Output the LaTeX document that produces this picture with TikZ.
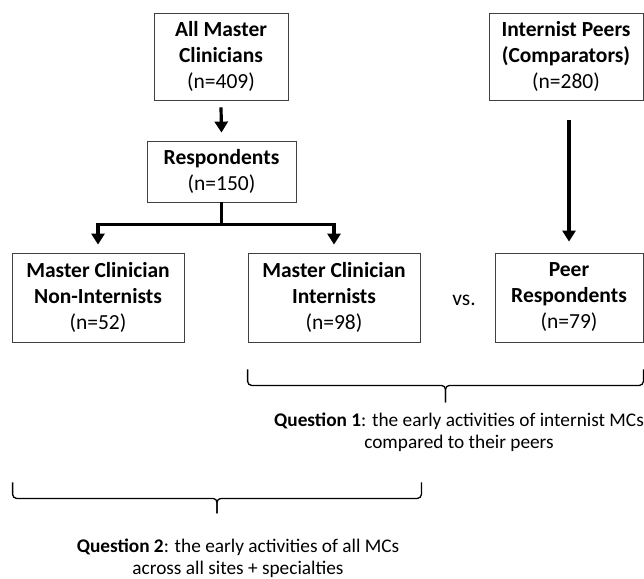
\documentclass[tikz,border=0pt]{standalone}
\usepackage{fontspec}
\setmainfont{Carlito}
\usetikzlibrary{calc,arrows.meta,positioning}

\begin{document}
\begin{tikzpicture}[x=1pt,y=-1pt,
    box/.style={draw=black!75, line width=0.8pt, align=center, inner sep=0pt,
        font=\fontsize{21.5}{26}\selectfont},
    flow/.style={line width=3.2pt, line join=miter, -{Triangle[length=11pt,width=13pt]}},
    bracket/.style={line width=1.3pt, rounded corners=4pt},
    note/.style={align=center, inner sep=0pt, font=\fontsize{19.3}{22}\selectfont}]
\useasboundingbox (0,0) rectangle (644,578);

\node[box, minimum width=134pt, minimum height=87pt] (all) at (221,56.5) {\textbf{All Master}\\\textbf{Clinicians}\\(n=409)};
\node[box, minimum width=154pt, minimum height=87pt] (peers) at (566,56.5) {\textbf{Internist Peers}\\\textbf{(Comparators)}\\(n=280)};
\node[box, minimum width=149pt, minimum height=61pt] (resp) at (221.5,171.5) {\textbf{Respondents}\\(n=150)};

\node[box, minimum width=172pt, minimum height=89pt] (mcn) at (98,297.5) {\textbf{Master Clinician}\\\textbf{Non-Internists}\\(n=52)};
\node[box, minimum width=172pt, minimum height=89pt] (mci) at (334,297.5) {\textbf{Master Clinician}\\\textbf{Internists}\\(n=98)};
\node[box, minimum width=148pt, minimum height=89pt] (peer) at (569,297.5) {\textbf{Peer}\\\textbf{Respondents}\\(n=79)};
\node[font=\fontsize{21.5}{24}\selectfont] (vs) at (464,300) {vs.};

% arrows
\draw[flow] ([yshift=-7pt]all.south) -- ([yshift=8pt]resp.north);
\draw[line width=3.2pt] (resp.south) -- ++(0,22) coordinate (split);
\draw[flow] (split) -| ([yshift=8pt]mcn.north);
\draw[flow] (split) -| ([yshift=8pt]mci.north);
\coordinate (ptop) at ($(peers.south)+(3,20)$);
\draw[flow] (ptop) -- ([yshift=11pt]peer.north);

% question 1
\coordinate (b1l) at ($(mci.south west)+(0,27)$);
\coordinate (b1r) at ($(peer.south east)+(0,27)$);
\coordinate (b1m) at ($(b1l)!0.5!(b1r)+(0,16)$);
\draw[bracket] (b1l) |- (b1m) -- ++(0,17);
\draw[bracket] (b1r) |- (b1m) -- ++(0,17);
\node[note] (q1) at (459,432) {\textbf{Question 1}: the early activities of internist MCs\\compared to their peers};

% question 2
\coordinate (b2l) at ($(mcn.south west)+(1,140)$);
\coordinate (b2r) at ($(mci.south east)+(1,140)$);
\coordinate (b2m) at ($(b2l)!0.5!(b2r)+(0,16)$);
\draw[bracket] (b2l) |- (b2m) -- ++(0,15);
\draw[bracket] (b2r) |- (b2m) -- ++(0,15);
\node[note] (q2) at (238,558) {\textbf{Question 2}: the early activities of all MCs\\across all sites + specialties};
\end{tikzpicture}
\end{document}
